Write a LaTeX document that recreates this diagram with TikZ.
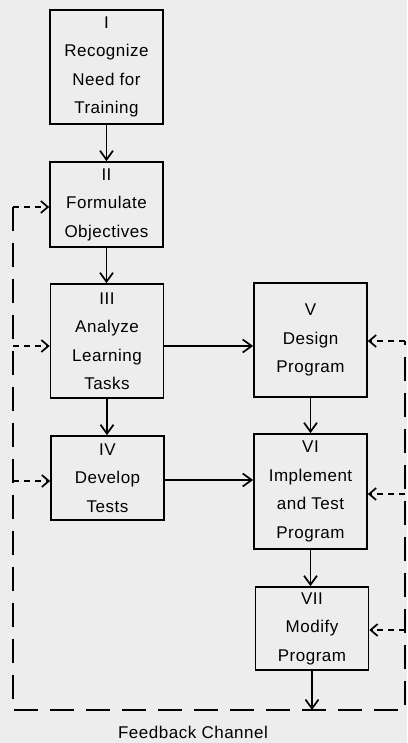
\documentclass[tikz,border=0pt]{standalone}
\usepackage{fontspec}
\setmainfont{Liberation Sans}[LetterSpace=3]
\usetikzlibrary{arrows.meta}
\newcommand{\fs}{\fontsize{17}{28.5}\selectfont}
\begin{document}
\begin{tikzpicture}[x=1pt,y=-1pt,
  box/.style={draw, line width=1.7pt, minimum width=113pt, inner sep=0pt, align=center, font=\fs},
  arr/.style={line width=1.7pt, -{Straight Barb[length=9pt,width=13pt,line width=1.7pt]}},
  fb/.style={line width=1.7pt, dash pattern=on 24pt off 12pt},
  fbarr/.style={line width=1.7pt, dash pattern=on 6pt off 5pt, -{Straight Barb[length=7pt,width=12pt,line width=1.7pt]}}]
\useasboundingbox (0,0) rectangle (407,743);
\fill[black!7] (0,0) rectangle (407,743);
\node[box, minimum height=114pt] (n1) at (106.5,67) {I\\Recognize\\Need for\\Training};
\node[box, minimum height=85pt] (n2) at (106.5,204.5) {II\\Formulate\\Objectives};
\node[box, minimum height=114pt] (n3) at (107,341) {III\\Analyze\\Learning\\Tasks};
\node[box, minimum height=84pt] (n4) at (107.5,478) {IV\\Develop\\Tests};
\node[box, minimum height=114pt] (n5) at (310.5,340) {V\\Design\\Program};
\node[box, minimum height=115pt] (n6) at (310.5,491.5) {VI\\Implement\\and Test\\Program};
\node[box, minimum height=83pt] (n7) at (312,628.5) {VII\\Modify\\Program};
\node[font=\fs] (fc) at (193,732) {Feedback Channel};
\coordinate (tl) at (13,207);
\coordinate (bl) at (13,710);
\coordinate (br) at (405,710);
\coordinate (tr) at (405,341);
\coordinate (l3) at (13,346);
\coordinate (l4) at (13,481);
\coordinate (r6) at (405,494);
\coordinate (r7) at (405,630);
\draw[arr] (n1.south) -- (n2.north);
\draw[arr] (n2.south) -- (n2.south |- n3.north);
\draw[arr] (n3.south) -- (n3.south |- n4.north);
\draw[arr] ([yshift=-5pt]n3.east) -- ([yshift=-5pt]n3.east -| n5.west);
\draw[arr] ([yshift=-2pt]n4.east) -- ([yshift=-2pt]n4.east -| n6.west);
\draw[arr] (n5.south) -- (n5.south |- n6.north);
\draw[arr] (n6.south) -- (n6.south |- n7.north);
\draw[arr] (n7.south) -- (n7.south |- bl);
\draw[fb] (tl) -- (bl) -- (br) -- (tr);
\draw[fbarr] (tl) -- (tl -| n2.west);
\draw[fbarr] (l3) -- (l3 -| n3.west);
\draw[fbarr] (l4) -- (l4 -| n4.west);
\draw[fbarr] (tr) -- (tr -| n5.east);
\draw[fbarr] (r6) -- (r6 -| n6.east);
\draw[fbarr] (r7) -- (r7 -| n7.east);
\end{tikzpicture}
\end{document}
